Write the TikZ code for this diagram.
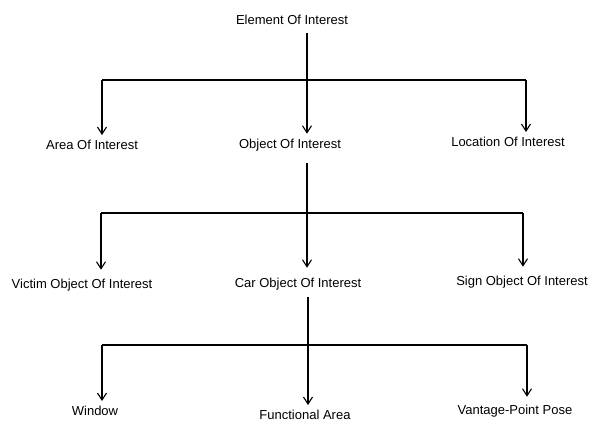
\documentclass[tikz,border=0pt]{standalone}
\usepackage{fontspec}
\newfontfamily\labelfont{Liberation Sans}
\usetikzlibrary{arrows.meta}

\begin{document}
\begin{tikzpicture}[x=1pt,y=-1pt,>={Straight Barb[length=7pt,width=9pt]},
	]

	\tikzset{item/.style={
				font=\labelfont\fontsize{13}{15}\selectfont,
				inner sep=5pt}
	}
	\tikzset{tree line/.style={
				line width=1.1pt,
				black}
	}

	\useasboundingbox (0,0) rectangle (598,422);

	% labels of the tree
	\node[item] (elem) at (292,20) {Element Of Interest};

	\node[item] (area) at (92,145) {Area Of Interest};
	\node[item] (obj) at (290,145) {Object Of Interest};
	\node[item] (loc) at (508,142) {Location Of Interest};

	\node[item] (victim) at (82,285) {Victim Object Of Interest};
	\node[item] (car) at (298,284) {Car Object Of Interest};
	\node[item] (sign) at (522,282) {Sign Object Of Interest};

	\node[item] (window) at (95,411) {Window};
	\node[item] (func) at (305,415) {Functional Area};
	\node[item] (vant) at (515,411) {Vantage-Point Pose};

	% first level
	\coordinate (s1) at (307,33);
	\coordinate (b1l) at (102,80);
	\coordinate (b1r) at (526,80);
	\draw[tree line] (b1l) -- (b1r);
	\draw[tree line,->] (s1) -- (s1 |- obj.north);
	\draw[tree line,->] (b1l) -- (b1l |- area.north);
	\draw[tree line,->] (b1r) -- (b1r |- loc.north);

	% second level
	\coordinate (s2) at (307,163);
	\coordinate (b2l) at (101,213);
	\coordinate (b2r) at (523,213);
	\draw[tree line] (b2l) -- (b2r);
	\draw[tree line,->,shorten >=5pt] (s2) -- (s2 |- car.north);
	\draw[tree line,->,shorten >=4pt] (b2l) -- (b2l |- victim.north);
	\draw[tree line,->,shorten >=4pt] (b2r) -- (b2r |- sign.north);

	% third level
	\coordinate (s3) at (308,297);
	\coordinate (b3l) at (102,345);
	\coordinate (b3r) at (527,345);
	\draw[tree line] (b3l) -- (b3r);
	\draw[tree line,->] (s3) -- (s3 |- func.north);
	\draw[tree line,->] (b3l) -- (b3l |- window.north);
	\draw[tree line,->,shorten >=3pt] (b3r) -- (b3r |- vant.north);

\end{tikzpicture}
\end{document}
